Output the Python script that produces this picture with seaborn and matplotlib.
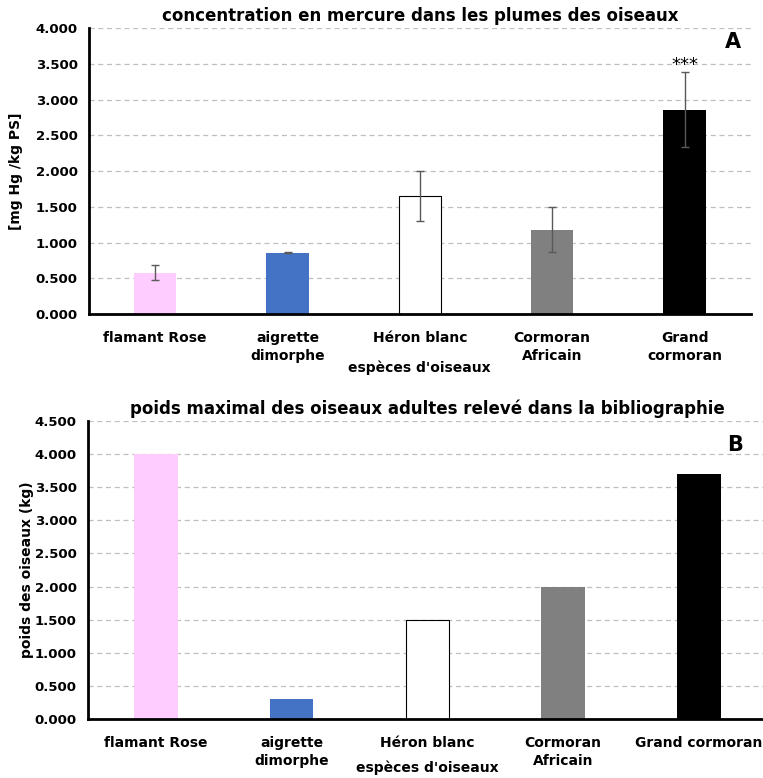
import numpy as np
import pandas as pd
import matplotlib
matplotlib.use("Agg")
import matplotlib.pyplot as plt
import seaborn as sns

# données
especes_a = ["flamant Rose", "aigrette\ndimorphe", "Héron blanc", "Cormoran\nAfricain", "Grand\ncormoran"]
especes_b = ["flamant Rose", "aigrette\ndimorphe", "Héron blanc", "Cormoran\nAfricain", "Grand cormoran"]
mercure = [0.58, 0.86, 1.65, 1.18, 2.86]
mercure_err = [0.10, 0.01, 0.35, 0.31, 0.53]
poids = [4.0, 0.3, 1.5, 2.0, 3.7]
couleurs = ["#FFCCFF", "#4472C4", "#FFFFFF", "#808080", "#000000"]

sns.set_theme(style="white")
plt.rcParams["font.family"] = ["DejaVu Sans"]
plt.rcParams["font.weight"] = "bold"
plt.rcParams["text.color"] = "black"
plt.rcParams["axes.labelcolor"] = "black"
plt.rcParams["xtick.color"] = "black"
plt.rcParams["ytick.color"] = "black"

fig = plt.figure(figsize=(7.63, 7.78), dpi=100)
ax1 = fig.add_axes([0.1166, 0.5964, 0.8674, 0.3676])
ax2 = fig.add_axes([0.1153, 0.0758, 0.8897, 0.3831])


def dessiner(ax, noms, valeurs, ymax, titre, lettre, ylabel):
    df = pd.DataFrame({"espece": noms, "valeur": valeurs})
    sns.barplot(data=df, x="espece", y="valeur", hue="espece", palette=couleurs,
                saturation=1, legend=False, width=0.32, edgecolor="none", ax=ax, zorder=3)
    # contour pour la barre blanche
    ax.patches[2].set_edgecolor("black")
    ax.patches[2].set_linewidth(0.8)
    ax.set_xlim(-0.5, 4.5)
    ax.set_ylim(0, ymax)
    ax.set_yticks(np.arange(0, ymax + 0.001, 0.5))
    ax.set_yticklabels([f"{v:.3f}" for v in np.arange(0, ymax + 0.001, 0.5)],
                       fontsize=9.5, fontweight="bold")
    ax.set_xticks(range(5))
    ax.set_xticklabels(noms, fontsize=10, fontweight="bold", linespacing=1.35)
    ax.set_xticks(np.arange(-0.5, 5.0, 1), minor=True)
    ax.tick_params(axis="x", which="major", length=0, pad=12)
    ax.tick_params(axis="x", which="minor", length=5, width=2, color="black", direction="out")
    ax.tick_params(axis="y", length=4, width=1.5, color="black", direction="inout", pad=6)
    ax.yaxis.grid(True, linestyle=(0, (4, 3)), color="#BFBFBF", linewidth=0.9, zorder=0)
    for s in ["top", "right"]:
        ax.spines[s].set_visible(False)
    for s in ["left", "bottom"]:
        ax.spines[s].set_color("black")
        ax.spines[s].set_linewidth(2)
        ax.spines[s].set_zorder(4)
    ax.set_xlabel("")
    ax.set_ylabel(ylabel, fontsize=10, fontweight="bold")
    ax.set_title(titre, fontsize=12, fontweight="bold", pad=5)
    return ax


dessiner(ax1, especes_a, mercure, 4.0,
         "concentration en mercure dans les plumes des oiseaux", "A", "[mg Hg /kg PS]")
ax1.errorbar(range(5), mercure, yerr=mercure_err, fmt="none", ecolor="#595959",
             elinewidth=1, capsize=3, capthick=1, zorder=5)
ax1.text(4, mercure[4] + mercure_err[4] - 0.04, "***", ha="center", va="bottom",
         fontsize=13, fontweight="normal")
ax1.text(0.985, 0.95, "A", transform=ax1.transAxes, fontsize=15,
         fontweight="bold", ha="right", va="center")
ax1.yaxis.set_label_coords(-0.1, 0.5)
fig.text(0.55, 1 - 368 / 778, "espèces d'oiseaux", ha="center", va="center",
         fontsize=10, fontweight="bold")

dessiner(ax2, especes_b, poids, 4.5,
         "poids maximal des oiseaux adultes relevé dans la bibliographie", "B",
         "poids des oiseaux (kg)")
ax2.text(0.965, 0.92, "B", transform=ax2.transAxes, fontsize=15,
         fontweight="bold", ha="right", va="center")
ax2.yaxis.set_label_coords(-0.08, 0.5)
fig.text(0.56, 1 - 768 / 778, "espèces d'oiseaux", ha="center", va="center",
         fontsize=10, fontweight="bold")

fig.savefig("out.png", dpi=100)
